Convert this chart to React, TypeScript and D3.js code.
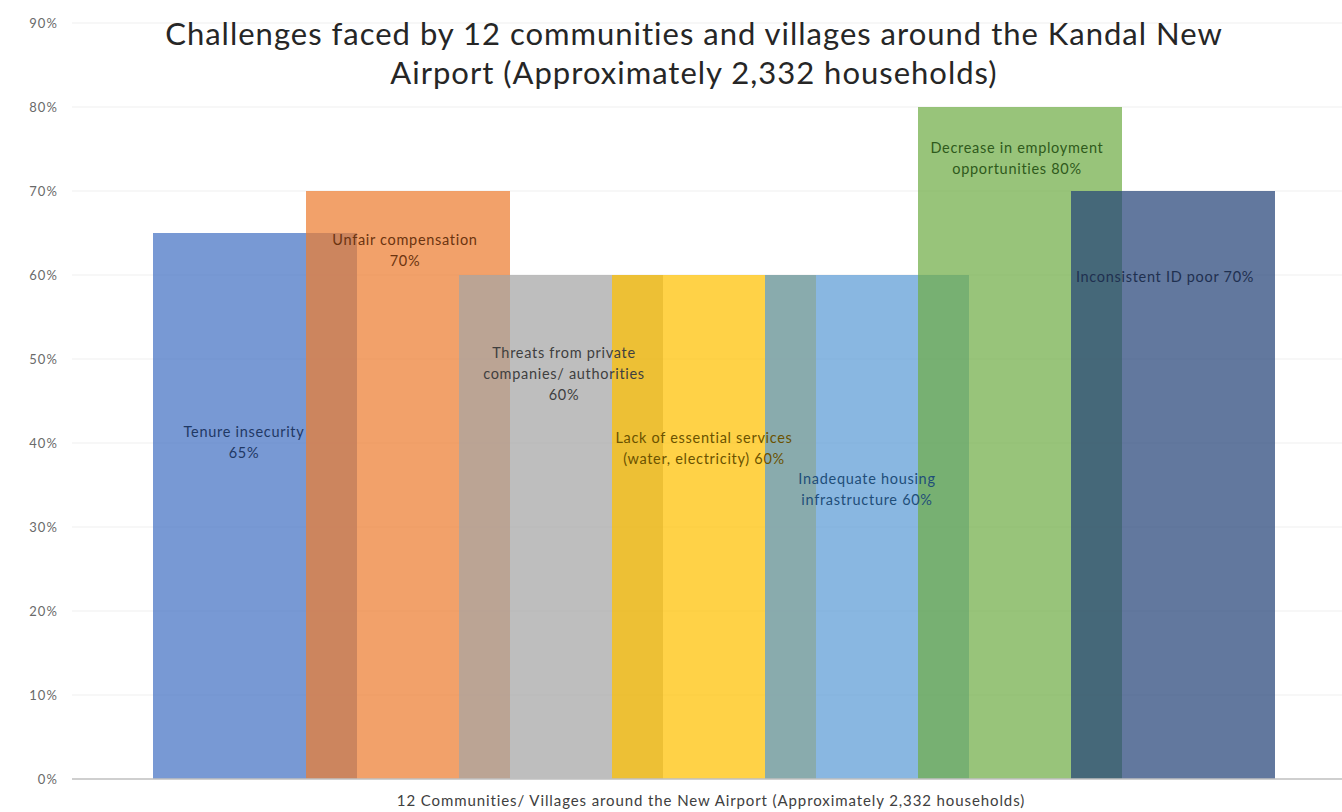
import React from "react";
import * as d3 from "d3";

const categories = [
  "Tenure insecurity",
  "Unfair compensation",
  "Threats from private companies/ authorities",
  "Lack of essential services",
  "Inadequate housing infrastructure",
  "Decrease in employment opportunities",
  "Inconsistent ID poor",
];
const values = [0.65, 0.7, 0.6, 0.6, 0.6, 0.8, 0.7];
const labelLines = [
  ["Tenure insecurity", "65%"],
  ["Unfair compensation", "70%"],
  ["Threats from private", "companies/ authorities", "60%"],
  ["Lack of essential services", "(water, electricity) 60%"],
  ["Inadequate housing", "infrastructure 60%"],
  ["Decrease in employment", "opportunities 80%"],
  ["Inconsistent ID poor 70%"],
];
const yTicks = [0, 0.1, 0.2, 0.3, 0.4, 0.5, 0.6, 0.7, 0.8, 0.9];
const titleLines = [
  "Challenges faced by 12 communities and villages around the Kandal New",
  "Airport (Approximately 2,332 households)",
];
const xAxisTitle =
  "12 Communities/ Villages around the New Airport (Approximately  2,332 households)";

// styling / layout (not data)
const barColors = ["#4472C4", "#ED7D31", "#A5A5A5", "#FFC000", "#5B9BD5", "#70AD47", "#264478"];
const labelColors = ["#1F3864", "#6B3410", "#3F3F3F", "#6B5200", "#1F4E79", "#2F5A1C", "#1F3050"];
// label anchor: first-line baseline in value units, x offset from bar centre in px
const labelAnchorValue = [0.407, 0.636, 0.501, 0.4, 0.351, 0.745, 0.592];
const labelOffsetX = [-11, -3, 3, -10, 0, -3, -8];

const W = 1342;
const H = 812;
const FONT = "Lato, 'Open Sans', sans-serif";

export default function App() {
  const x = d3
    .scaleBand<string>()
    .domain(categories)
    .range([153, 153 + 153 * categories.length])
    .padding(0);
  const barW = x.bandwidth() * (4 / 3);
  const y = d3.scaleLinear().domain([0, 0.9]).range([779, 23]);
  const fmt = d3.format(".0%");

  return (
    <svg
      width={W}
      height={H}
      style={{ position: "absolute", left: 0, top: 0, background: "#fff" }}
      fontFamily={FONT}
    >
      <rect x={0} y={0} width={W} height={H} fill="#fff" />
      {yTicks.map((t) => (
        <g key={t}>
          {t > 0 && (
            <line x1={72} x2={W} y1={y(t)} y2={y(t)} stroke="#efefef" strokeWidth={1} />
          )}
          <text
            x={58}
            y={y(t)}
            dy="0.35em"
            textAnchor="end"
            fontSize={13}
            letterSpacing={1.1}
            fill="#6a6a6a"
          >
            {fmt(t)}
          </text>
        </g>
      ))}
      {categories.map((c, i) => (
        <rect
          key={c}
          x={x(c)!}
          y={y(values[i])}
          width={barW}
          height={y(0) - y(values[i])}
          fill={barColors[i]}
          fillOpacity={0.72}
        />
      ))}
      <line x1={72} x2={W} y1={y(0)} y2={y(0)} stroke="#bfbfbf" strokeWidth={1.5} />
      {categories.map((c, i) => {
        const cx = x(c)! + barW / 2 + labelOffsetX[i];
        const y0 = y(labelAnchorValue[i]);
        return (
          <text
            key={c}
            textAnchor="middle"
            fontSize={14.5}
            letterSpacing={0.7}
            fill={labelColors[i]}
          >
            {labelLines[i].map((ln, j) => (
              <tspan key={j} x={cx} y={y0 + j * 21}>
                {ln}
              </tspan>
            ))}
          </text>
        );
      })}
      <text textAnchor="middle" fontSize={31} letterSpacing={1} fill="#262626">
        {titleLines.map((ln, j) => (
          <tspan key={j} x={694} y={45 + j * 39}>
            {ln}
          </tspan>
        ))}
      </text>
      <text
        x={711}
        y={806}
        textAnchor="middle"
        fontSize={15}
        letterSpacing={0.9}
        fill="#404040"
      >
        {xAxisTitle}
      </text>
    </svg>
  );
}
